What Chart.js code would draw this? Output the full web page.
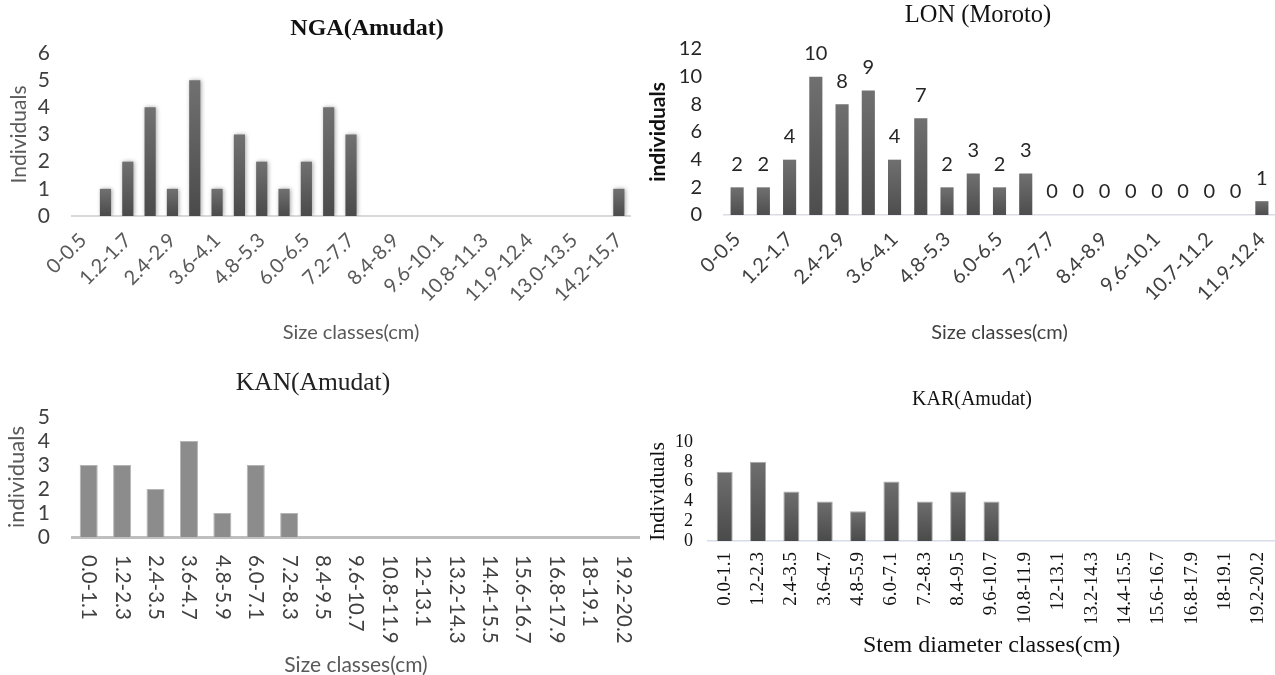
<!DOCTYPE html>
<html><head><meta charset="utf-8">
<script src="https://cdn.jsdelivr.net/npm/chart.js@4.4.1/dist/chart.umd.min.js"></script>
<style>
html,body{margin:0;padding:0;background:#fff;overflow:hidden;}
#wrap{position:relative;width:1275px;height:675px;overflow:hidden;background:#fff;}
canvas{position:absolute;}
</style></head><body>
<div id="wrap">
<canvas id="c1" width="734" height="345" style="left:0px;top:0px"></canvas>
<canvas id="c2" width="676" height="345" style="left:640px;top:0px"></canvas>
<canvas id="c3" width="654" height="325" style="left:-14px;top:355px"></canvas>
<canvas id="c4" width="664" height="320" style="left:640px;top:360px"></canvas>
</div>
<script>
// ---------- DATA ----------
const ngaCategories = ["0-0.5","0.6-1.1","1.2-1.7","1.8-2.3","2.4-2.9","3.0-3.5","3.6-4.1","4.2-4.7","4.8-5.3","5.4-5.9","6.0-6.5","6.6-7.1","7.2-7.7","7.8-8.3","8.4-8.9","9.0-9.5","9.6-10.1","10.2-10.7","10.8-11.3","11.4-11.8","11.9-12.4","12.5-12.9","13.0-13.5","13.6-14.1","14.2-15.7"];
const ngaValues = [0,1,2,4,1,5,1,3,2,1,2,4,3,0,0,0,0,0,0,0,0,0,0,0,1];

const lonCategories = ["0-0.5","0.6-1.1","1.2-1.7","1.8-2.3","2.4-2.9","3.0-3.5","3.6-4.1","4.2-4.7","4.8-5.3","5.4-5.9","6.0-6.5","6.6-7.1","7.2-7.7","7.8-8.3","8.4-8.9","9.0-9.5","9.6-10.1","10.2-10.6","10.7-11.2","11.3-11.8","11.9-12.4"];
const lonValues = [2,2,4,10,8,9,4,7,2,3,2,3,0,0,0,0,0,0,0,0,1];

const kanCategories = ["0.0-1.1","1.2-2.3","2.4-3.5","3.6-4.7","4.8-5.9","6.0-7.1","7.2-8.3","8.4-9.5","9.6-10.7","10.8-11.9","12-13.1","13.2-14.3","14.4-15.5","15.6-16.7","16.8-17.9","18-19.1","19.2-20.2"];
const kanValues = [3,3,2,4,1,3,1,0,0,0,0,0,0,0,0,0,0];

const karCategories = ["0.0-1.1","1.2-2.3","2.4-3.5","3.6-4.7","4.8-5.9","6.0-7.1","7.2-8.3","8.4-9.5","9.6-10.7","10.8-11.9","12-13.1","13.2-14.3","14.4-15.5","15.6-16.7","16.8-17.9","18-19.1","19.2-20.2"];
const karValues = [7,8,5,4,3,6,4,5,4,0,0,0,0,0,0,0,0];

// ---------- HELPERS ----------
const SANS = "Lato";
const SERIF = "'Liberation Serif', 'Times New Roman', serif";

function gradFill(top, bottom) {
  return (c) => {
    const chart = c.chart;
    const y = chart.scales && chart.scales.y;
    if (!chart.chartArea || !y || c.type !== 'data') return bottom;
    const y0 = y.getPixelForValue(c.raw), y1 = y.getPixelForValue(0);
    if (!(y1 - y0 > 0.5)) return bottom;
    const g = chart.ctx.createLinearGradient(0, y0, 0, y1);
    g.addColorStop(0, top); g.addColorStop(1, bottom);
    return g;
  };
}
function spacer(w) {
  return {type:'linear', position:'right', display:true, grid:{display:false}, border:{display:false},
          ticks:{display:false}, afterFit(s){ s.width = w; }};
}
function everyOther(value, index) { return index % 2 === 0 ? this.getLabelForValue(value) : ''; }

const shadowPlugin = {
  id: 'barShadow',
  beforeDatasetsDraw(chart) { const c = chart.ctx; c.save(); c.shadowColor = 'rgba(0,0,0,0.35)'; c.shadowBlur = 4; c.shadowOffsetX = 1; c.shadowOffsetY = 0; },
  afterDatasetsDraw(chart) { chart.ctx.restore(); }
};
const valueLabels = {
  id: 'valueLabels',
  afterDatasetsDraw(chart) {
    const ctx = chart.ctx, meta = chart.getDatasetMeta(0), vals = chart.data.datasets[0].data;
    ctx.save(); ctx.font = '20px ' + SANS; ctx.fillStyle = '#262626'; ctx.textAlign = 'center'; ctx.textBaseline = 'middle';
    meta.data.forEach((el, i) => ctx.fillText(String(vals[i]), el.x, el.y - 23));
    ctx.restore();
  }
};
const downLabels = {
  id: 'downLabels',
  afterDraw(chart) {
    const xs = chart.scales.x, ctx = chart.ctx;
    ctx.save(); ctx.font = '20.5px ' + SANS; ctx.fillStyle = '#404040'; ctx.textAlign = 'left'; ctx.textBaseline = 'middle';
    chart.data.labels.forEach((lab, i) => {
      const px = xs.getPixelForTick(i);
      ctx.save(); ctx.translate(px, xs.top + 18); ctx.rotate(Math.PI / 2); ctx.fillText(lab, 0, 0); ctx.restore();
    });
    ctx.restore();
  }
};
const base = { responsive:false, animation:false, events:[], layout:{padding:0} };

// ---------- NGA ----------
new Chart(document.getElementById('c1'), {
  type: 'bar',
  data: { labels: ngaCategories, datasets: [{ data: ngaValues, backgroundColor: gradFill('#717171', '#4a4a4a'), borderWidth: 0, categoryPercentage: 0.5, barPercentage: 1 }] },
  options: Object.assign({}, base, {
    plugins: { legend:{display:false}, tooltip:{enabled:false},
      title: { display:true, text:'NGA(Amudat)', color:'#111', font:{family:SERIF, size:24, weight:'bold', lineHeight:1.2}, padding:{top:14.6, bottom:9.6} } },
    scales: {
      x: { grid:{display:false, drawTicks:false}, border:{display:true, color:'#d9d9d9', width:2},
           ticks:{autoSkip:false, minRotation:45, maxRotation:45, padding:12.5, color:'#595959', font:{family:SANS, size:20}, callback: everyOther},
           title:{display:true, text:'Size classes(cm)', color:'#595959', font:{family:SANS, size:20}, padding:{top:0, bottom:0}},
           afterFit(s){ s.height = 129; } },
      y: { min:0, max:6, grid:{display:false, drawTicks:false}, border:{display:false},
           ticks:{autoSkip:false, stepSize:1, padding:22, color:'#404040', font:{family:SANS, size:21}},
           title:{display:true, text:'Individuals', color:'#595959', font:{family:SANS, size:21}, padding:{top:6.4, bottom:0}},
           afterFit(s){ s.width = 72; } },
      sp: spacer(104)
    }
  }),
  plugins: [shadowPlugin]
});

// ---------- LON ----------
new Chart(document.getElementById('c2'), {
  type: 'bar',
  data: { labels: lonCategories, datasets: [{ data: lonValues, backgroundColor: gradFill('#707070', '#4d4d4d'), borderWidth: 0, categoryPercentage: 0.5, barPercentage: 1 }] },
  options: Object.assign({}, base, {
    plugins: { legend:{display:false}, tooltip:{enabled:false},
      title: { display:true, text:'LON (Moroto)', color:'#111', font:{family:SERIF, size:24.5, weight:'normal', lineHeight:1.2}, padding:{top:1.3, bottom:18.3} } },
    scales: {
      x: { grid:{display:false, drawTicks:false}, border:{display:true, color:'#dcdce4', width:1.5},
           ticks:{autoSkip:false, minRotation:45, maxRotation:45, padding:12.5, color:'#404040', font:{family:SANS, size:20}, callback: everyOther},
           title:{display:true, text:'Size classes(cm)', color:'#404040', font:{family:SANS, size:20}, padding:{top:0, bottom:0}},
           afterFit(s){ s.height = 130; } },
      y: { min:0, max:12, grid:{display:false, drawTicks:false}, border:{display:false},
           ticks:{autoSkip:false, stepSize:2, padding:22, color:'#262626', font:{family:SANS, size:20}},
           title:{display:true, text:'individuals', color:'#111', font:{family:SANS, size:21, weight:'bold'}, padding:{top:5.4, bottom:0}},
           afterFit(s){ s.width = 84; } },
      sp: spacer(41)
    }
  }),
  plugins: [valueLabels]
});

// ---------- KAN ----------
new Chart(document.getElementById('c3'), {
  type: 'bar',
  data: { labels: kanCategories, datasets: [{ data: kanValues, backgroundColor: '#8c8c8c', borderColor: '#b5b5b5', borderWidth: 1, categoryPercentage: 0.54, barPercentage: 1 }] },
  options: Object.assign({}, base, {
    plugins: { legend:{display:false}, tooltip:{enabled:false},
      title: { display:true, text:'KAN(Amudat)', color:'#222', font:{family:SERIF, size:25.5, weight:'normal', lineHeight:1.2}, padding:{top:12.7, bottom:18.7} } },
    scales: {
      x: { grid:{display:false, drawTicks:false}, border:{display:true, color:'#bfbfbf', width:3},
           ticks:{display:false},
           title:{display:true, text:'Size classes(cm)', color:'#595959', font:{family:SANS, size:21}, padding:{top:0, bottom:2.4}},
           afterFit(s){ s.height = 143; } },
      y: { min:0, max:5, grid:{display:false, drawTicks:false}, border:{display:false},
           ticks:{autoSkip:false, stepSize:1, padding:22, color:'#404040', font:{family:SANS, size:21}},
           title:{display:true, text:'individuals', color:'#595959', font:{family:SANS, size:22}, padding:{top:17.8, bottom:0}},
           afterFit(s){ s.width = 86; } }
    }
  }),
  plugins: [downLabels]
});

// ---------- KAR ----------
new Chart(document.getElementById('c4'), {
  type: 'bar',
  data: { labels: karCategories, datasets: [{ data: karValues, backgroundColor: gradFill('#6e6e6e', '#4a4a4a'), borderColor: '#a8a8a8', borderWidth: 1, categoryPercentage: 0.48, barPercentage: 1 }] },
  options: Object.assign({}, base, {
    plugins: { legend:{display:false}, tooltip:{enabled:false},
      title: { display:true, text:'KAR(Amudat)', color:'#111', font:{family:SERIF, size:20, weight:'normal', lineHeight:1.2}, padding:{top:28, bottom:30} } },
    scales: {
      x: { grid:{display:false, drawTicks:false}, border:{display:true, color:'#d6dce8', width:1.5},
           ticks:{autoSkip:false, minRotation:90, maxRotation:90, padding:11, color:'#111', font:{family:SERIF, size:19}},
           title:{display:true, text:'Stem diameter classes(cm)', color:'#111', font:{family:SERIF, size:24}, padding:{top:0, bottom:19.6}},
           afterFit(s){ s.height = 139; } },
      y: { min:0, max:10, grid:{display:false, drawTicks:false}, border:{display:false},
           ticks:{autoSkip:false, stepSize:2, padding:15, color:'#111', font:{family:SERIF, size:18}},
           title:{display:true, text:'Individuals', color:'#111', font:{family:SERIF, size:22}, padding:{top:4.8, bottom:0}},
           afterFit(s){ s.width = 68; } },
      sp: spacer(29)
    }
  })
});
</script>
</body></html>
